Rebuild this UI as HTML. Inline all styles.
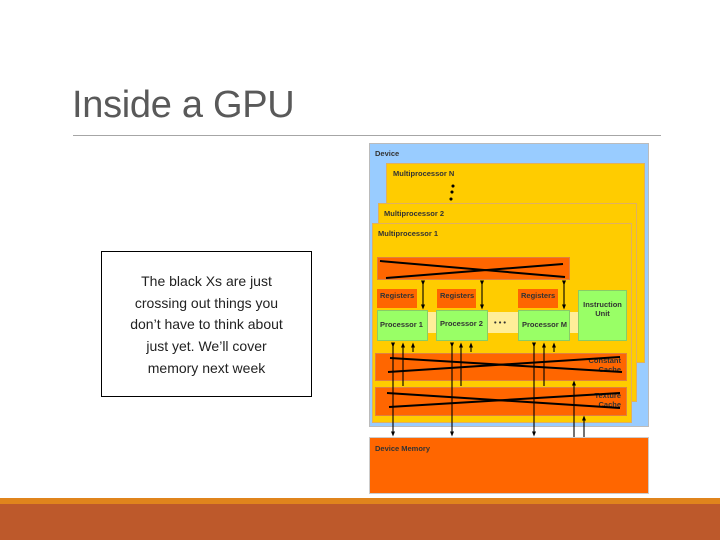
<!DOCTYPE html>
<html><head><style>
body{margin:0;width:720px;height:540px;background:#fff;position:relative;overflow:hidden;font-family:"Liberation Sans",sans-serif}
.a{position:absolute;box-sizing:border-box}
.t{font-size:7.5px;font-weight:bold;color:#333}
</style></head><body>
<div class="a" style="left:72px;top:84px;font-size:38px;color:#595959;letter-spacing:-0.3px">Inside a GPU</div>
<div class="a" style="left:73px;top:135px;width:588px;height:1px;background:#a6a6a6"></div>
<div class="a" style="left:101px;top:251px;width:211px;height:146px;border:1.5px solid #000;text-align:center;font-size:14px;line-height:21.7px;padding:19px 2px 0 2px;color:#222;white-space:nowrap">The black Xs are just<br>crossing out things you<br>don’t have to think about<br>just yet. We’ll cover<br>memory next week</div>

<div class="a" style="left:369px;top:143px;width:280px;height:284px;background:#99ccff;border:1px solid #bbb"></div>
<div class="a t" style="left:375px;top:149px">Device</div>
<div class="a" style="left:386px;top:163px;width:259px;height:200px;background:#ffcc00;border:1px solid #e0b060"></div>
<div class="a t" style="left:393px;top:169px">Multiprocessor N</div>
<div class="a" style="left:378px;top:203px;width:259px;height:199px;background:#ffcc00;border:1px solid #e0b060"></div>
<div class="a t" style="left:384px;top:209px">Multiprocessor 2</div>
<div class="a" style="left:372px;top:223px;width:260px;height:200px;background:#ffcc00;border:1px solid #e0b060"></div>
<div class="a t" style="left:378px;top:229px">Multiprocessor 1</div>
<div class="a" style="left:377px;top:257px;width:193px;height:23px;background:#ff6600;border:1px solid #e08040"></div>
<div class="a" style="left:428px;top:312px;width:150px;height:21px;background:#ffee99"></div>
<div class="a" style="left:377px;top:289px;width:40px;height:19px;background:#ff6600"></div>
<div class="a" style="left:437px;top:289px;width:39px;height:19px;background:#ff6600"></div>
<div class="a" style="left:518px;top:289px;width:40px;height:19px;background:#ff6600"></div>
<div class="a t" style="left:380px;top:291px">Registers</div>
<div class="a t" style="left:440px;top:291px">Registers</div>
<div class="a t" style="left:521px;top:291px">Registers</div>
<div class="a" style="left:578px;top:290px;width:49px;height:51px;background:#99ff66;border:1px solid #88cc66"></div>
<div class="a t" style="left:578px;top:300px;width:49px;text-align:center">Instruction Unit</div>
<div class="a" style="left:377px;top:310px;width:51px;height:31px;background:#99ff66;border:1px solid #88cc66"></div>
<div class="a" style="left:436px;top:310px;width:52px;height:31px;background:#99ff66;border:1px solid #88cc66"></div>
<div class="a" style="left:518px;top:310px;width:52px;height:31px;background:#99ff66;border:1px solid #88cc66"></div>
<div class="a t" style="left:380px;top:320px">Processor 1</div>
<div class="a t" style="left:440px;top:319px">Processor 2</div>
<div class="a t" style="left:494px;top:318px">• • •</div>
<div class="a t" style="left:522px;top:320px">Processor M</div>
<div class="a" style="left:375px;top:353px;width:252px;height:28px;background:#ff6600;border:1px solid #e08040"></div>
<div class="a" style="left:375px;top:387px;width:252px;height:29px;background:#ff6600;border:1px solid #e08040"></div>
<div class="a t" style="left:585px;top:356px;text-align:right;width:36px">Constant Cache</div>
<div class="a t" style="left:585px;top:391px;text-align:right;width:36px">Texture Cache</div>
<div class="a" style="left:369px;top:437px;width:280px;height:57px;background:#ff6600;border:1px solid #ccc"></div>
<div class="a t" style="left:375px;top:444px">Device Memory</div>
<svg class="a" style="left:0;top:0" width="720" height="540">
<defs><marker id="m" markerUnits="userSpaceOnUse" markerWidth="5" markerHeight="5" refX="2.5" refY="2.5" orient="auto"><path d="M0,0.5L5,2.5L0,4.5z" fill="#000"/></marker></defs>
<g stroke="#000" stroke-width="1.1" fill="none">
<circle cx="453" cy="186" r="1" fill="#000"/><circle cx="452" cy="192" r="1" fill="#000"/><circle cx="451" cy="199" r="1" fill="#000"/>
<line x1="380" y1="261" x2="565" y2="277" stroke-width="2"/><line x1="386" y1="278" x2="563" y2="264" stroke-width="2"/>
<line x1="390" y1="358" x2="622" y2="372" stroke-width="2"/><line x1="388" y1="372" x2="620" y2="357" stroke-width="2"/>
<line x1="387" y1="393" x2="620" y2="408" stroke-width="2"/><line x1="389" y1="407" x2="620" y2="393" stroke-width="2"/>
<line x1="423" y1="283" x2="423" y2="307" marker-start="url(#m)" marker-end="url(#m)"/>
<line x1="482" y1="283" x2="482" y2="307" marker-start="url(#m)" marker-end="url(#m)"/>
<line x1="564" y1="283" x2="564" y2="307" marker-start="url(#m)" marker-end="url(#m)"/>
<line x1="393" y1="345" x2="393" y2="434" marker-start="url(#m)" marker-end="url(#m)"/>
<line x1="452" y1="345" x2="452" y2="434" marker-start="url(#m)" marker-end="url(#m)"/>
<line x1="534" y1="345" x2="534" y2="434" marker-start="url(#m)" marker-end="url(#m)"/>
<line x1="403" y1="386" x2="403" y2="345" marker-end="url(#m)"/>
<line x1="461" y1="386" x2="461" y2="345" marker-end="url(#m)"/>
<line x1="544" y1="386" x2="544" y2="345" marker-end="url(#m)"/>
<line x1="413" y1="352" x2="413" y2="345" marker-end="url(#m)"/>
<line x1="471" y1="352" x2="471" y2="345" marker-end="url(#m)"/>
<line x1="554" y1="352" x2="554" y2="345" marker-end="url(#m)"/>
<line x1="574" y1="437" x2="574" y2="383" marker-end="url(#m)"/>
<line x1="584" y1="437" x2="584" y2="418" marker-end="url(#m)"/>
</g></svg>
<div class="a" style="left:0;top:498px;width:720px;height:6px;background:#e0841c"></div>
<div class="a" style="left:0;top:504px;width:720px;height:36px;background:#bd592b"></div>
</body></html>
